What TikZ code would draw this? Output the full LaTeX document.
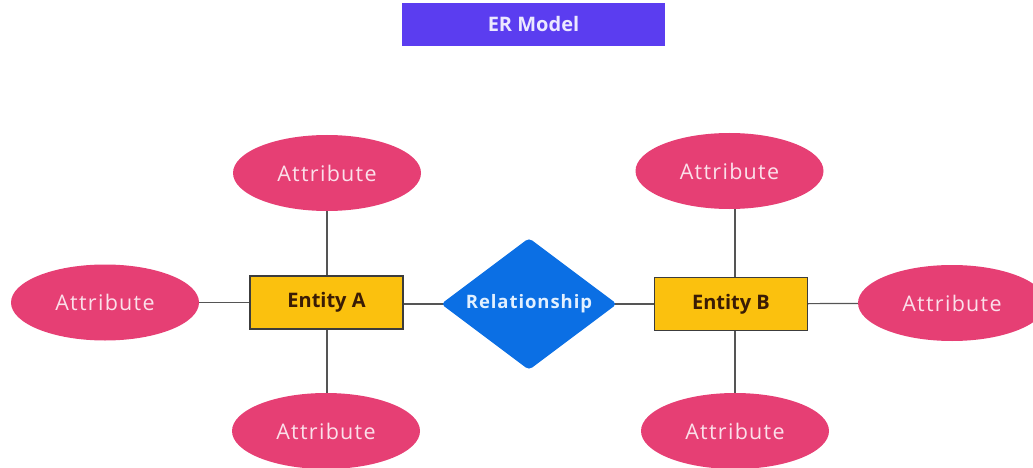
\documentclass[tikz,border=0pt]{standalone}
\usepackage{fontspec}
\setmainfont{Open Sans}
\newfontfamily\attrfont[LetterSpace=6]{Open Sans}
\newfontfamily\relfont[LetterSpace=5]{Open Sans}
\usetikzlibrary{shapes.geometric,backgrounds}
\definecolor{titlebg}{HTML}{5B3DF0}
\definecolor{titletxt}{HTML}{ECE8FF}
\definecolor{entfill}{HTML}{FBC10E}
\definecolor{entline}{HTML}{3C3C3C}
\definecolor{enttxt}{HTML}{3A1C05}
\definecolor{relfill}{HTML}{0B6FE4}
\definecolor{reltxt}{HTML}{E2F0FF}
\definecolor{attrfill}{HTML}{E63F74}
\definecolor{attrtxt}{HTML}{FBE0EA}
\definecolor{linkcol}{HTML}{555555}
\tikzset{
  titlebox/.style={rectangle, fill=titlebg, text=titletxt, minimum width=263pt,
    minimum height=43pt, inner sep=0pt, font=\fontsize{20}{24}\selectfont\bfseries},
  entity/.style={rectangle, draw=entline, line width=1.3pt, fill=entfill, text=enttxt,
    minimum width=153pt, minimum height=53pt, inner sep=0pt,
    font=\fontsize{20}{24}\selectfont\bfseries},
  relation/.style={diamond, fill=relfill, text=reltxt, shape aspect=1.33,
    minimum width=176pt, minimum height=132pt, inner sep=0pt, rounded corners=4pt,
    font=\relfont\fontsize{18.5}{22}\selectfont\bfseries},
  attribute/.style={ellipse, fill=attrfill, text=attrtxt, minimum width=188pt,
    minimum height=76pt, inner sep=0pt, font=\attrfont\fontsize{21.5}{25}\selectfont},
  link/.style={draw=linkcol, line width=1.2pt}
}
\begin{document}
\begin{tikzpicture}[x=1pt, y=-1pt]
  \useasboundingbox (0,0) rectangle (1033,468);
  \clip (0,0) rectangle (1033,468);

  % heading
  \node[titlebox] (title) at (533.5,24.5) {ER Model};

  % points where the vertical links meet the entities
  \coordinate (aTopJ) at (327,290);
  \coordinate (aBotJ) at (327,315);
  \coordinate (bTopJ) at (735,290);
  \coordinate (bBotJ) at (735,315);

  % entities and relationship
  \node[entity] (entA) at (326.5,302.5) {Entity A};
  \node[entity] (entB) at (731,304) {Entity B};
  \node[relation] (rel) at (529,304) {Relationship};

  % attributes of Entity A
  \node[attribute] (aTop) at (327,173) {Attribute};
  \node[attribute] (aLeft) at (105,302.5) {Attribute};
  \node[attribute] (aBot) at (326,431) {Attribute};

  % attributes of Entity B
  \node[attribute] (bTop) at (729.5,171) {Attribute};
  \node[attribute] (bRight) at (952,303) {Attribute};
  \node[attribute] (bBot) at (735,431) {Attribute};

  % links run behind the shapes
  \begin{pgfonlayer}{background}
    \draw[link] (aTop.center -| aTopJ) -- (aTopJ);
    \draw[link] (aBotJ) -- (aBot.center -| aBotJ);
    \draw[link] (aLeft.center) -- (aLeft.center -| entA.center);
    \draw[link] (entA.center |- rel.center) -- (rel.center);
    \draw[link] (rel.center) -- (entB.center);
    \draw[link] (entB.center) -- (bRight.center);
    \draw[link] (bTop.center -| bTopJ) -- (bTopJ);
    \draw[link] (bBotJ) -- (bBot.center -| bBotJ);
  \end{pgfonlayer}
\end{tikzpicture}
\end{document}
